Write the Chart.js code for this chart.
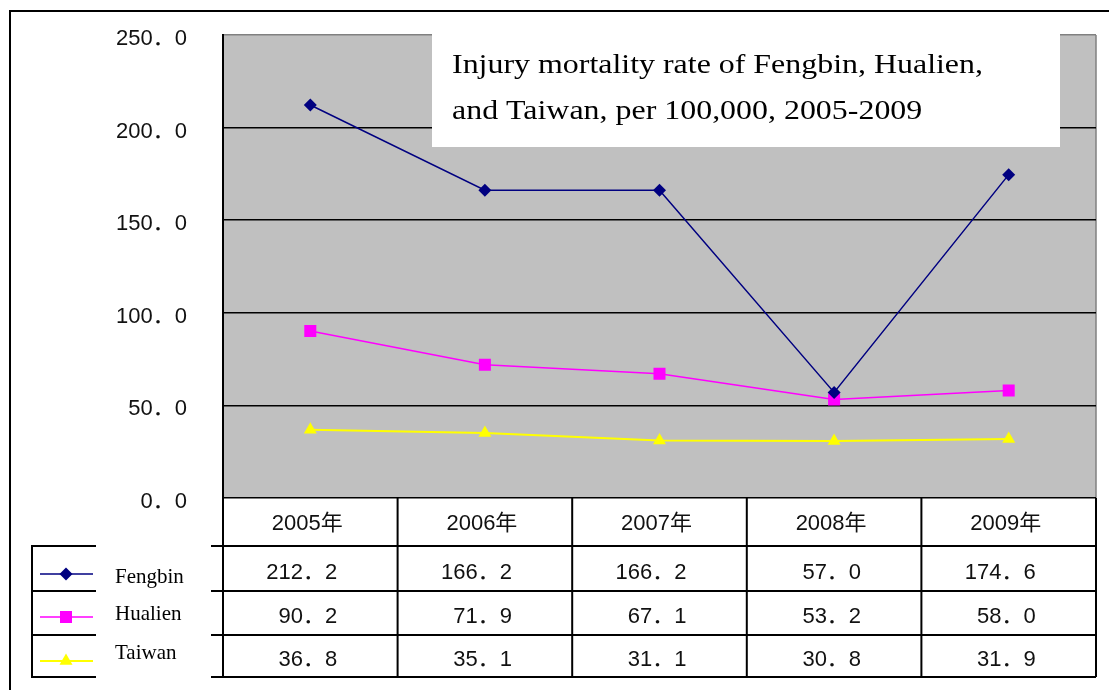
<!DOCTYPE html>
<html>
<head>
<meta charset="utf-8">
<script src="https://cdn.jsdelivr.net/npm/chart.js@4"></script>
<style>
body { margin: 0; background: #fff; }
canvas { display: block; }
</style>
</head>
<body>
<canvas id="myChart" width="1109" height="690"></canvas>
<script>
var years = ['2005年', '2006年', '2007年', '2008年', '2009年'];
var fengbin = [212.2, 166.2, 166.2, 57.0, 174.6];
var hualien = [90.2, 71.9, 67.1, 53.2, 58.0];
var taiwan = [36.8, 35.1, 31.1, 30.8, 31.9];
var yMin = 0, yMax = 250, yStep = 50;
var seriesNames = ['Fengbin', 'Hualien', 'Taiwan'];
var titleLines = ['Injury mortality rate of Fengbin, Hualien,', 'and Taiwan, per 100,000, 2005-2009'];

var gothic = '"Liberation Sans", "Noto Sans CJK JP", sans-serif';
var serif = '"Liberation Serif", "DejaVu Serif", serif';

// 250.0 -> "250．0" (full width stop, like the original sheet)
function fmt(v) {
    return Number(v).toFixed(1).replace('.', '\uFF0E');
}

// marker shapes, used for the legend in the table
function drawMarker(ctx, style, x, y, r) {
    ctx.beginPath();
    if (style === 'rectRot') {
        ctx.moveTo(x, y - r);
        ctx.lineTo(x + r, y);
        ctx.lineTo(x, y + r);
        ctx.lineTo(x - r, y);
    } else if (style === 'rect') {
        var s = r * Math.SQRT1_2;
        ctx.rect(x - s, y - s, s * 2, s * 2);
    } else {
        ctx.moveTo(x, y - r);
        ctx.lineTo(x + r * 0.866, y + r * 0.5);
        ctx.lineTo(x - r * 0.866, y + r * 0.5);
    }
    ctx.closePath();
    ctx.fill();
}

var sheetPlugin = {
    id: 'sheet',
    beforeDraw: function (chart) {
        var ctx = chart.ctx, a = chart.chartArea;
        ctx.save();
        ctx.fillStyle = '#fff';
        ctx.fillRect(0, 0, chart.width, chart.height);
        // outer frame
        ctx.strokeStyle = '#000';
        ctx.lineWidth = 2;
        ctx.beginPath();
        ctx.moveTo(10, chart.height);
        ctx.lineTo(10, 11);
        ctx.lineTo(chart.width, 11);
        ctx.stroke();
        // plot background
        ctx.fillStyle = '#c0c0c0';
        ctx.fillRect(a.left, a.top, a.right - a.left, a.bottom - a.top);
        ctx.strokeStyle = '#808080';
        ctx.lineWidth = 1.5;
        ctx.beginPath();
        ctx.moveTo(a.right, a.top);
        ctx.lineTo(a.right, a.bottom);
        ctx.stroke();
        ctx.restore();
    },
    afterDraw: function (chart) {
        var ctx = chart.ctx, a = chart.chartArea;
        var xs = chart.scales.x;
        var half = (a.right - a.left) / years.length / 2;
        var rows = [a.bottom, 546, 591, 635, 677];
        ctx.save();

        // title box (text is a bit wide in the original, so stretch it)
        ctx.fillStyle = '#fff';
        ctx.fillRect(432, a.top - 1, 628, 148 - a.top);
        ctx.fillStyle = '#000';
        ctx.font = '28px ' + serif;
        ctx.textAlign = 'left';
        ctx.textBaseline = 'alphabetic';
        ctx.save();
        ctx.translate(452, 0);
        ctx.scale(1.14, 1);
        ctx.fillText(titleLines[0], 0, 73);
        ctx.fillText(titleLines[1], 0, 119);
        ctx.restore();

        // data table grid
        ctx.strokeStyle = '#000';
        ctx.lineWidth = 2;
        ctx.beginPath();
        for (var i = 0; i <= years.length; i++) {
            var bx = i < years.length ? xs.getPixelForValue(i) - half : xs.getPixelForValue(years.length - 1) + half;
            ctx.moveTo(bx, rows[0]);
            ctx.lineTo(bx, rows[4]);
        }
        for (var r = 1; r < rows.length; r++) {
            ctx.moveTo(211, rows[r]);
            ctx.lineTo(a.right, rows[r]);
            ctx.moveTo(32, rows[r]);
            ctx.lineTo(96, rows[r]);
        }
        ctx.moveTo(32, rows[1] - 1);
        ctx.lineTo(32, rows[4] + 1);
        ctx.stroke();

        // table text
        ctx.font = '22px ' + gothic;
        ctx.fillStyle = '#111';
        ctx.textBaseline = 'middle';
        var data = [fengbin, hualien, taiwan];
        for (var i = 0; i < years.length; i++) {
            var cx = xs.getPixelForValue(i);
            ctx.textAlign = 'center';
            ctx.fillText(years[i], cx - 3, (rows[0] + rows[1]) / 2 + 2);
            ctx.textAlign = 'right';
            for (var s = 0; s < data.length; s++) {
                ctx.fillText(fmt(data[s][i]), cx + 27, (rows[s + 1] + rows[s + 2]) / 2 + 4);
            }
        }

        // legend inside the table
        var ds = chart.data.datasets;
        var ly = [574, 617, 661];
        var ty = [577, 614, 653];
        for (var s = 0; s < ds.length; s++) {
            ctx.strokeStyle = ds[s].borderColor;
            ctx.fillStyle = ds[s].borderColor;
            ctx.lineWidth = ds[s].borderWidth;
            ctx.beginPath();
            ctx.moveTo(40, ly[s]);
            ctx.lineTo(93, ly[s]);
            ctx.stroke();
            drawMarker(ctx, ds[s].pointStyle, 66, ly[s], ds[s].pointRadius);
            ctx.fillStyle = '#000';
            ctx.font = '21px ' + serif;
            ctx.textAlign = 'left';
            ctx.fillText(seriesNames[s], 115, ty[s]);
        }
        ctx.restore();
    }
};

var ctx = document.getElementById('myChart').getContext('2d');
var myChart = new Chart(ctx, {
    type: 'line',
    data: {
        labels: years,
        datasets: [
            {
                label: seriesNames[0],
                data: fengbin,
                borderColor: '#000080',
                backgroundColor: '#000080',
                borderWidth: 1.5,
                pointStyle: 'rectRot',
                pointRadius: 6.5,
                pointBorderWidth: 0
            },
            {
                label: seriesNames[1],
                data: hualien,
                borderColor: '#ff00ff',
                backgroundColor: '#ff00ff',
                borderWidth: 1.5,
                pointStyle: 'rect',
                pointRadius: 8.5,
                pointBorderWidth: 0
            },
            {
                label: seriesNames[2],
                data: taiwan,
                borderColor: '#ffff00',
                backgroundColor: '#ffff00',
                borderWidth: 2,
                pointStyle: 'triangle',
                pointRadius: 7.5,
                pointBorderWidth: 0
            }
        ]
    },
    options: {
        responsive: false,
        animation: false,
        layout: {
            padding: { left: 10, right: 13, top: 35, bottom: 192 }
        },
        plugins: {
            legend: { display: false },
            tooltip: { enabled: false },
            title: { display: false }
        },
        scales: {
            x: {
                display: false,
                offset: true
            },
            y: {
                min: yMin,
                max: yMax,
                afterFit: function (scale) {
                    scale.width = 213;
                    // the big tick padding should not push the plot down
                    scale.paddingTop = 0;
                    scale.paddingBottom = 0;
                },
                ticks: {
                    stepSize: yStep,
                    padding: 36,
                    labelOffset: 4,
                    color: '#111',
                    font: { family: gothic, size: 22 },
                    callback: function (value) {
                        return fmt(value);
                    }
                },
                grid: {
                    tickLength: 0,
                    lineWidth: 1.5,
                    color: function (c) {
                        return c.tick && c.tick.value === yMax ? '#808080' : '#000';
                    }
                },
                border: { color: '#000', width: 2 }
            }
        }
    },
    plugins: [sheetPlugin]
});
</script>
</body>
</html>
